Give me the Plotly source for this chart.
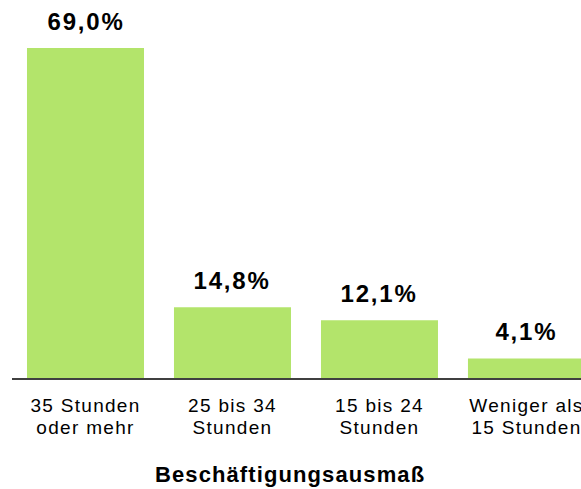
import plotly.graph_objects as go

categories = ["35 Stunden<br>oder mehr", "25 bis 34<br>Stunden", "15 bis 24<br>Stunden", "Weniger als<br>15 Stunden"]
values = [69.0, 14.8, 12.1, 4.1]
value_labels = ["69,0%", "14,8%", "12,1%", "4,1%"]
axis_title = "Beschäftigungsausmaß"

FONT = "'Liberation Sans', Arial, sans-serif"
GREEN = "#b3e46b"

fig = go.Figure()
fig.add_trace(go.Bar(
    x=categories,
    y=values,
    marker=dict(color=GREEN, line=dict(width=0)),
    hoverinfo="skip",
))

for c, v, t in zip(categories, values, value_labels):
    fig.add_annotation(
        x=c, y=v, xref="x", yref="y", text=t, showarrow=False,
        yanchor="bottom", yshift=11,
        font=dict(family=FONT, size=24, color="#000000", weight="bold"),
    )

fig.add_annotation(
    x=0.4886, y=0, xref="paper", yref="paper", text=axis_title, showarrow=False,
    yanchor="middle", yshift=-96,
    font=dict(family=FONT, size=22, color="#000000", weight="bold"),
)

fig.update_layout(
    width=581, height=489,
    margin=dict(l=12, r=0, t=0, b=111),
    paper_bgcolor="white", plot_bgcolor="white",
    bargap=0.204,
    showlegend=False,
    font=dict(family=FONT, color="#000000"),
)
fig.update_xaxes(
    range=[-0.5, 3.371],
    showline=True, linecolor="#404040", linewidth=1.5,
    showgrid=False, ticks="", zeroline=False,
    tickfont=dict(family=FONT, size=19, color="#000000"),
    ticklabelstandoff=9,
)
fig.update_yaxes(range=[0, 79.04], visible=False, showgrid=False, zeroline=False)

post = """
document.body.style.margin = '0';
document.body.style.padding = '0';
document.querySelectorAll('.xtick text').forEach(function(t){
  t.style.letterSpacing = '1.3px';
  t.querySelectorAll('tspan.line').forEach(function(s, i){ if (i > 0) { s.setAttribute('dy', '1.2em'); } });
});
document.querySelectorAll('.annotation text').forEach(function(t){
  if (t.textContent.indexOf('%') >= 0) { t.style.letterSpacing = '1.8px'; }
  else { t.style.letterSpacing = '1.1px'; }
});
"""
fig.write_html("out.html", post_script=post, config={"displayModeBar": False})
